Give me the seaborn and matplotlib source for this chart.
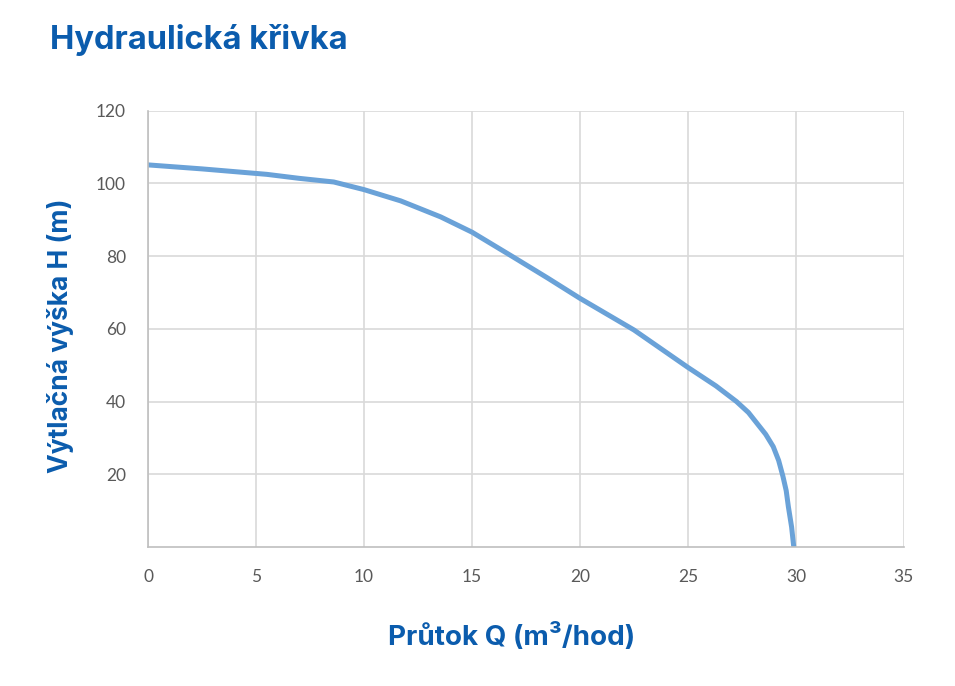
import matplotlib.pyplot as plt
import pandas as pd
import seaborn as sns

# pump curve
flow_q = [0, 2.5, 5.5, 7.0, 8.6, 10.0, 11.7, 13.55, 15.0, 16.9, 18.5, 20.0, 22.5, 25.0,
          26.3, 27.25, 27.8, 28.2, 28.6, 28.95, 29.2, 29.4, 29.55, 29.65, 29.8, 29.9]
head_h = [105.1, 104.0, 102.5, 101.4, 100.4, 98.3, 95.2, 90.8, 86.6, 79.8, 74.0, 68.4,
          59.7, 49.4, 44.3, 40.0, 37.0, 34.0, 31.0, 27.6, 23.8, 19.4, 15.5, 11.1, 5.5, 0.0]
x_ticks = [0, 5, 10, 15, 20, 25, 30, 35]
y_ticks = [20, 40, 60, 80, 100, 120]

df = pd.DataFrame({'Q': flow_q, 'H': head_h})

sns.set_style('white')
plt.rcParams['font.family'] = ['Lato', 'DejaVu Sans']

blue = '#0b5cad'
fig = plt.figure(figsize=(9.55, 6.86), dpi=100)
ax = fig.add_axes([0.155, 0.2026, 0.7915, 0.636])

sns.lineplot(data=df, x='Q', y='H', ax=ax, color='#6aa2d8', linewidth=3.6, sort=False)

ax.set_xlim(0, 35)
ax.set_ylim(0, 120)
ax.set_xticks(x_ticks)
ax.set_yticks(y_ticks)
ax.grid(True, color='#d9d9d9', linewidth=1.2)
ax.set_axisbelow(True)
for s in ['top', 'right']:
    ax.spines[s].set_visible(False)
for s in ['left', 'bottom']:
    ax.spines[s].set_color('#bfbfbf')
    ax.spines[s].set_linewidth(1.2)
ax.tick_params(length=0, labelsize=12.5, labelcolor='#595959')
ax.tick_params(axis='x', pad=16)
ax.tick_params(axis='y', pad=16)

ax.set_xlabel('')
ax.set_ylabel('')
fig.text(0.536, 0.072, 'Průtok Q (m³/hod)', ha='center', va='center', fontsize=20,
         fontweight='bold', color=blue, family=['Inter', 'DejaVu Sans'])
fig.text(0.063, 0.51, 'Výtlačná výška H (m)', ha='center', va='center', rotation=90,
         fontsize=19, fontweight='bold', color=blue, family=['Inter', 'DejaVu Sans'])
fig.text(0.052, 0.942, 'Hydraulická křivka', ha='left', va='center', fontsize=23.5,
         fontweight='bold', color=blue, family=['Inter', 'DejaVu Sans'])

fig.savefig('out.png', dpi=100)
